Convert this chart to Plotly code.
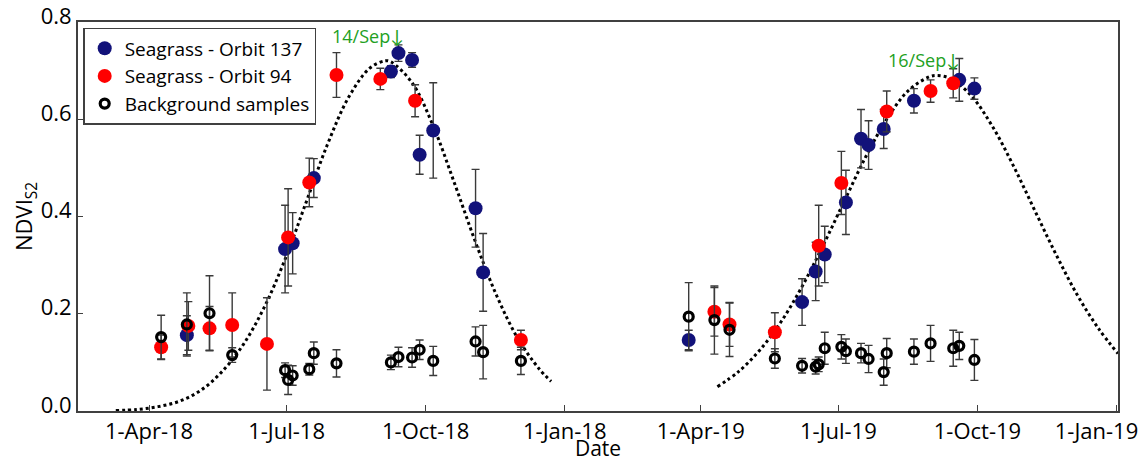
import plotly.graph_objects as go

# ---------------- data ----------------
navy_dates = ["2018-04-26", "2018-06-30", "2018-07-05", "2018-07-19", "2018-09-08",
              "2018-09-13", "2018-09-22", "2018-09-27", "2018-10-06", "2018-11-03",
              "2018-11-08",
              "2019-03-24", "2019-06-07", "2019-06-16", "2019-06-22", "2019-07-06",
              "2019-07-16", "2019-07-21", "2019-07-31", "2019-08-20", "2019-09-19",
              "2019-09-29"]
navy_vals = [0.156, 0.333, 0.345, 0.479, 0.698, 0.736, 0.722, 0.527, 0.577, 0.417, 0.285,
             0.146, 0.224, 0.287, 0.322, 0.429, 0.560, 0.547, 0.580, 0.638, 0.681, 0.663]
navy_err = [0.040, 0.090, 0.063, 0.040, 0.012, 0.017, 0.015, 0.040, 0.098, 0.080, 0.080,
            0.020, 0.048, 0.060, 0.058, 0.066, 0.060, 0.050, 0.040, 0.025, 0.044, 0.022]

red_dates = ["2018-04-09", "2018-04-27", "2018-05-11", "2018-05-26", "2018-06-18",
             "2018-07-02", "2018-07-16", "2018-08-03", "2018-09-01", "2018-09-24",
             "2018-12-03",
             "2019-04-10", "2019-04-20", "2019-05-20", "2019-06-18", "2019-07-03",
             "2019-08-02", "2019-08-31", "2019-09-15"]
red_vals = [0.131, 0.175, 0.170, 0.177, 0.138, 0.357, 0.470, 0.691, 0.683, 0.638, 0.146,
            0.204, 0.178, 0.162, 0.340, 0.469, 0.616, 0.658, 0.674]
red_err = [0.025, 0.050, 0.045, 0.066, 0.095, 0.100, 0.050, 0.046, 0.022, 0.033, 0.020,
           0.050, 0.045, 0.040, 0.083, 0.065, 0.042, 0.023, 0.030]

bg_dates = ["2018-04-09", "2018-04-26", "2018-05-11", "2018-05-26", "2018-06-30",
            "2018-07-02", "2018-07-05", "2018-07-16", "2018-07-19", "2018-08-03",
            "2018-09-08", "2018-09-13", "2018-09-22", "2018-09-27", "2018-10-06",
            "2018-11-03", "2018-11-08", "2018-12-03",
            "2019-03-24", "2019-04-10", "2019-04-20", "2019-05-20", "2019-06-07",
            "2019-06-16", "2019-06-18", "2019-06-22", "2019-07-03", "2019-07-06",
            "2019-07-16", "2019-07-21", "2019-07-31", "2019-08-02", "2019-08-20",
            "2019-08-31", "2019-09-15", "2019-09-19", "2019-09-29"]
bg_vals = [0.152, 0.178, 0.201, 0.115, 0.084, 0.064, 0.073, 0.086, 0.119, 0.098,
           0.100, 0.111, 0.110, 0.126, 0.103, 0.143, 0.121, 0.103,
           0.194, 0.187, 0.167, 0.108, 0.093, 0.091, 0.096, 0.129, 0.132, 0.123,
           0.119, 0.107, 0.080, 0.119, 0.122, 0.139, 0.129, 0.134, 0.105]
bg_err = [0.045, 0.065, 0.077, 0.015, 0.015, 0.030, 0.020, 0.012, 0.023, 0.028,
          0.015, 0.020, 0.020, 0.020, 0.030, 0.030, 0.055, 0.028,
          0.070, 0.070, 0.055, 0.020, 0.015, 0.015, 0.015, 0.033, 0.025, 0.025,
          0.020, 0.028, 0.027, 0.030, 0.026, 0.037, 0.037, 0.028, 0.042]

# fitted seasonal curves (dotted)
fit18_dates = ["2018-03-10", "2018-03-24", "2018-04-07", "2018-04-21", "2018-05-05",
               "2018-05-19", "2018-06-02", "2018-06-16", "2018-06-30", "2018-07-14",
               "2018-07-28", "2018-08-11", "2018-08-25", "2018-09-04", "2018-09-08",
               "2018-09-22", "2018-10-06", "2018-10-20", "2018-11-03", "2018-11-17",
               "2018-12-01", "2018-12-15", "2018-12-23"]
fit18_vals = [0.001, 0.003, 0.009, 0.020, 0.042, 0.080, 0.135, 0.212, 0.312, 0.430,
              0.548, 0.645, 0.705, 0.720, 0.718, 0.675, 0.586, 0.469, 0.347, 0.237,
              0.149, 0.087, 0.061]
fit19_dates = ["2019-04-12", "2019-04-26", "2019-05-10", "2019-05-24", "2019-06-07",
               "2019-06-21", "2019-07-05", "2019-07-19", "2019-08-02", "2019-08-16",
               "2019-08-30", "2019-09-04", "2019-09-13", "2019-09-27", "2019-10-11",
               "2019-10-25", "2019-11-08", "2019-11-22", "2019-12-06", "2019-12-20",
               "2020-01-02"]
fit19_vals = [0.050, 0.081, 0.125, 0.183, 0.256, 0.341, 0.432, 0.522, 0.600, 0.658,
              0.687, 0.690, 0.684, 0.648, 0.585, 0.503, 0.412, 0.322, 0.239, 0.170,
              0.118]

tick_dates = ["2018-04-01", "2018-07-01", "2018-10-01", "2019-01-01",
              "2019-04-01", "2019-07-01", "2019-10-01", "2020-01-01"]
tick_labels = ["1-Apr-18", "1-Jul-18", "1-Oct-18", "1-Jan-18",
               "1-Apr-19", "1-Jul-19", "1-Oct-19", "1-Jan-19"]
y_ticks = [0.0, 0.2, 0.4, 0.6, 0.8]

peak_labels = ["14/Sep↓", "16/Sep↓"]
peak_dates = ["2018-09-18", "2019-09-21"]
peak_y = [0.772, 0.722]

# ---------------- styles ----------------
FONT = "'Open Sans', Lato, sans-serif"
NAVY = "#12127a"
RED = "#ff0000"
ERRC = "#3a3a3a"
AXC = "#404040"

# the last label sits left of its tick (at the frame edge) in the reference;
# trailing no-break spaces keep it inside the window
shown_labels = tick_labels[:-1] + [tick_labels[-1] + "\u00a0" * 7]

fig = go.Figure()

for d, v in ((fit18_dates, fit18_vals), (fit19_dates, fit19_vals)):
    fig.add_trace(go.Scatter(x=d, y=v, mode="lines", showlegend=False, hoverinfo="skip",
                             line=dict(color="black", width=3, dash="dot", shape="spline")))

def err(vals):
    return dict(type="data", array=vals, visible=True, color=ERRC, thickness=1.4, width=4)

fig.add_trace(go.Scatter(x=navy_dates, y=navy_vals, mode="markers", name="Seagrass - Orbit 137",
                         error_y=err(navy_err),
                         marker=dict(color=NAVY, size=14, line=dict(width=0))))
fig.add_trace(go.Scatter(x=red_dates, y=red_vals, mode="markers", name="Seagrass - Orbit 94",
                         error_y=err(red_err),
                         marker=dict(color=RED, size=14, line=dict(width=0))))
fig.add_trace(go.Scatter(x=bg_dates, y=bg_vals, mode="markers", name="Background samples",
                         error_y=err(bg_err),
                         marker=dict(symbol="circle-open", color="black", size=9,
                                     line=dict(width=3.2, color="black"))))

for t, d, y in zip(peak_labels, peak_dates, peak_y):
    fig.add_annotation(x=d, y=y, text=t, showarrow=False, xanchor="right", yanchor="middle",
                       font=dict(family=FONT, size=18, color="#22a022"))

# the page body has an 8px margin; the figure is sized so that the plot area
# lands at x 78..1118, y 22..411 of the window
fig.update_layout(
    width=1140, height=454,
    margin=dict(l=70, r=30, t=14, b=51),
    paper_bgcolor="white", plot_bgcolor="white",
    font=dict(family=FONT, size=22, color="black"),
    showlegend=True,
    legend=dict(x=0.005, y=0.985, xanchor="left", yanchor="top",
                bgcolor="white", bordercolor=AXC, borderwidth=1.5,
                font=dict(family=FONT, size=19, color="black"),
                tracegroupgap=0),
)

fig.update_xaxes(type="date", range=["2018-02-13", "2020-01-02"],
                 tickvals=tick_dates, ticktext=shown_labels,
                 ticks="inside", ticklen=6, tickwidth=1.2, tickcolor=AXC,
                 showline=True, linecolor=AXC, linewidth=1.8, mirror=True,
                 showgrid=False, zeroline=False, ticklabeloverflow="allow",
                 ticklabelstandoff=0,
                 tickfont=dict(family=FONT, size=22),
                 title=dict(text="Date", font=dict(family=FONT, size=21), standoff=8),
                 automargin=False)
fig.update_yaxes(range=[0, 0.8], tickvals=y_ticks, tickformat=".1f",
                 ticks="inside", ticklen=5, tickwidth=1.2, tickcolor=AXC,
                 showline=True, linecolor=AXC, linewidth=1.8, mirror=True,
                 showgrid=False, zeroline=False, ticklabelshift=-6,
                 ticklabeloverflow="allow",
                 tickfont=dict(family=FONT, size=22),
                 title=dict(text="NDVI<sub>S2</sub>", font=dict(family=FONT, size=22), standoff=14),
                 automargin=False)

fig.write_html("out.html")
